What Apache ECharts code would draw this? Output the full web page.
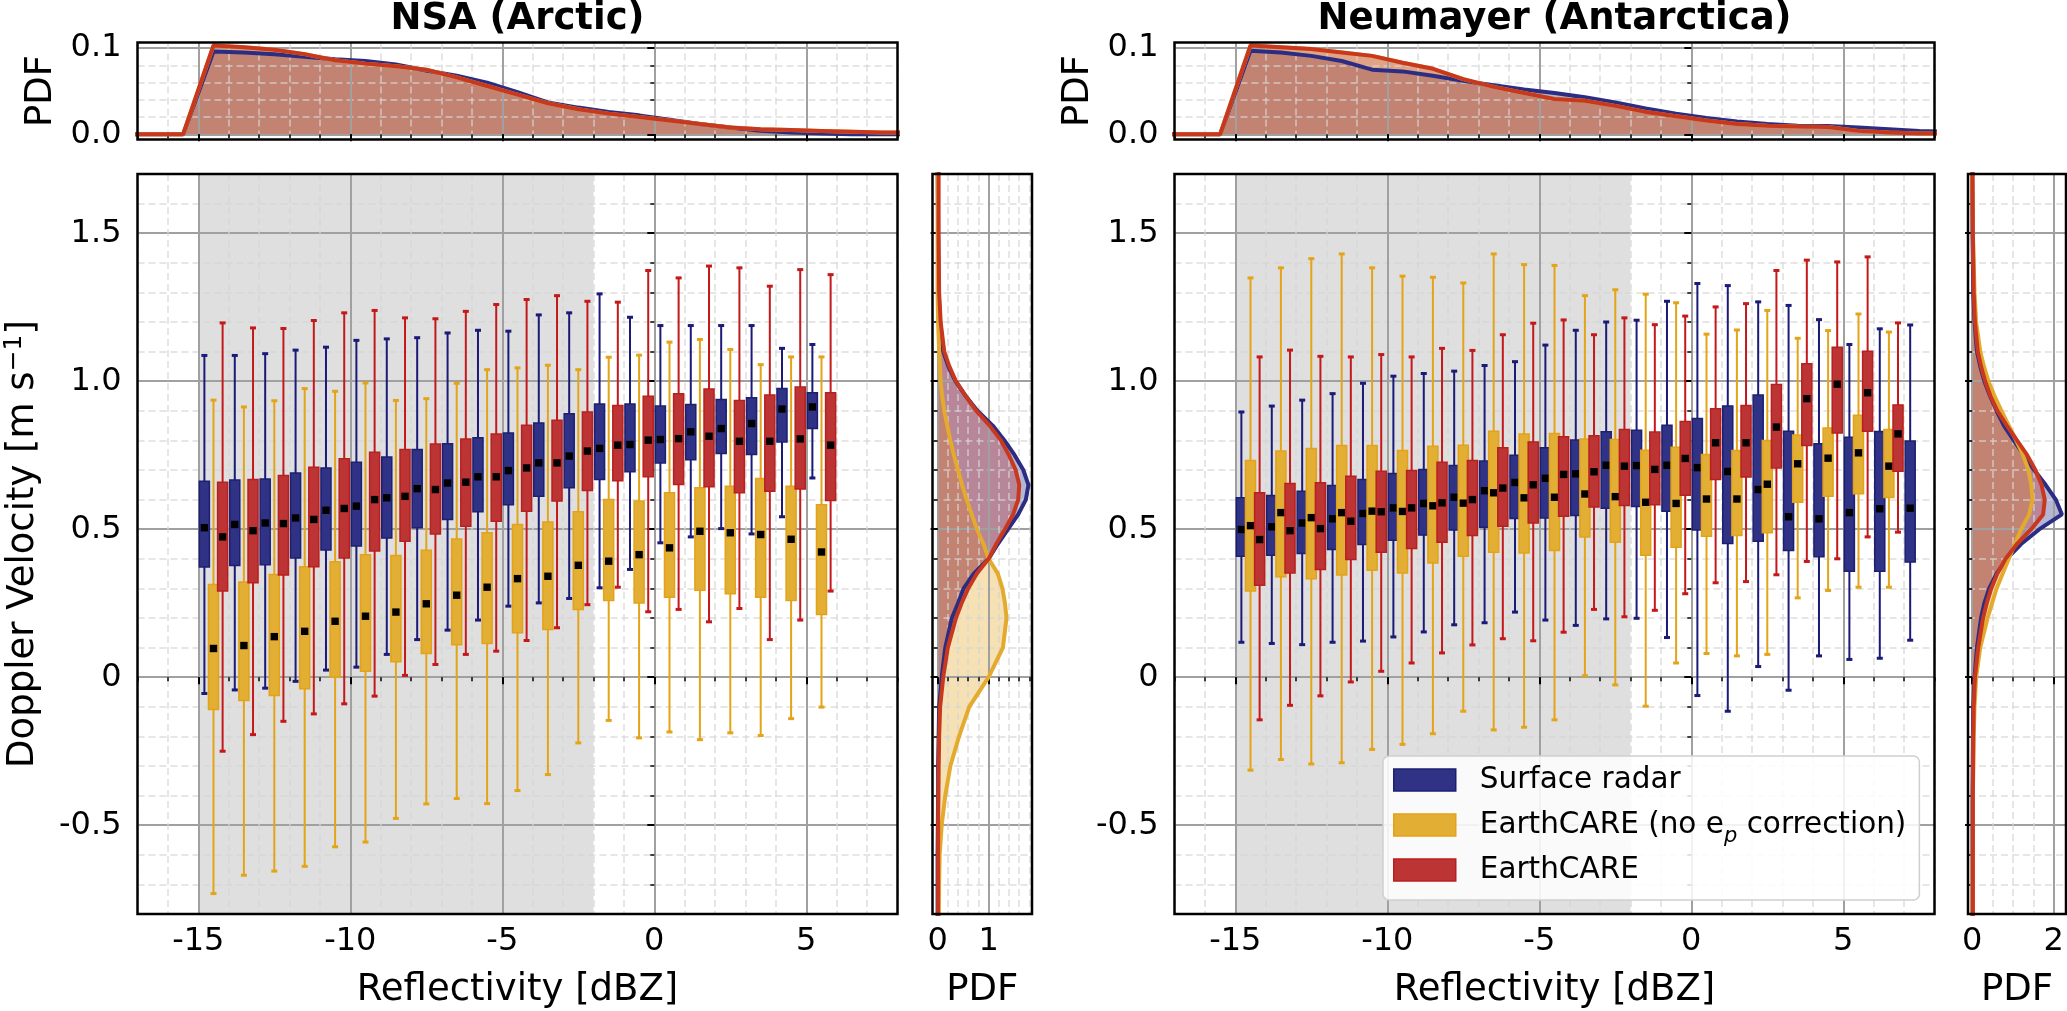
<!DOCTYPE html>
<html>
<head>
<meta charset="utf-8">
<script src="https://cdn.jsdelivr.net/npm/echarts@6/dist/echarts.min.js"></script>
<style>
html, body { margin: 0; padding: 0; background: #fff; }
#chart { width: 2067px; height: 1011px; }
</style>
</head>
<body>
<div id="chart"></div>
<script>
// ---- data ----
// reflectivity bins (dBZ)
var nsaBins = [-14.5, -13.5, -12.5, -11.5, -10.5, -9.5, -8.5, -7.5, -6.5, -5.5, -4.5, -3.5, -2.5, -1.5, -0.5, 0.5, 1.5, 2.5, 3.5, 4.5, 5.5];
var neuBins = [-14.5, -13.5, -12.5, -11.5, -10.5, -9.5, -8.5, -7.5, -6.5, -5.5, -4.5, -3.5, -2.5, -1.5, -0.5, 0.5, 1.5, 2.5, 3.5, 4.5, 5.5, 6.5, 7.5];

// box stats per bin: [whisker low, q1, median, q3, whisker high]  (m/s)
var nsaRadar = [
  [-0.055, 0.372, 0.505, 0.662, 1.087], [-0.043, 0.377, 0.516, 0.666, 1.087], [-0.037, 0.380, 0.521, 0.670, 1.093],
  [-0.014, 0.403, 0.538, 0.690, 1.105], [0.024, 0.430, 0.564, 0.707, 1.115], [0.034, 0.443, 0.578, 0.726, 1.138],
  [0.077, 0.470, 0.606, 0.744, 1.143], [0.127, 0.505, 0.637, 0.769, 1.147], [0.159, 0.533, 0.656, 0.789, 1.163],
  [0.193, 0.559, 0.677, 0.809, 1.172], [0.240, 0.583, 0.698, 0.825, 1.169], [0.251, 0.611, 0.724, 0.859, 1.224],
  [0.266, 0.640, 0.747, 0.890, 1.231], [0.302, 0.668, 0.773, 0.923, 1.295], [0.364, 0.694, 0.786, 0.923, 1.216],
  [0.454, 0.724, 0.803, 0.916, 1.188], [0.474, 0.735, 0.829, 0.921, 1.188], [0.502, 0.756, 0.840, 0.938, 1.188],
  [0.484, 0.752, 0.857, 0.944, 1.188], [0.542, 0.795, 0.906, 0.975, 1.111], [0.673, 0.840, 0.913, 0.961, 1.124]
];
var nsaRaw = [
  [-0.731, -0.109, 0.097, 0.313, 0.936], [-0.669, -0.079, 0.107, 0.322, 0.913], [-0.655, -0.062, 0.137, 0.347, 0.934],
  [-0.639, -0.039, 0.155, 0.373, 0.975], [-0.573, 0.000, 0.189, 0.390, 0.966], [-0.557, 0.020, 0.206, 0.414, 0.994],
  [-0.477, 0.052, 0.220, 0.411, 0.935], [-0.428, 0.080, 0.248, 0.429, 0.941], [-0.410, 0.110, 0.277, 0.467, 0.993],
  [-0.427, 0.114, 0.304, 0.488, 1.039], [-0.383, 0.150, 0.333, 0.516, 1.045], [-0.329, 0.161, 0.341, 0.524, 1.054],
  [-0.222, 0.229, 0.378, 0.559, 1.039], [-0.146, 0.259, 0.392, 0.600, 1.081], [-0.205, 0.251, 0.414, 0.595, 1.088],
  [-0.185, 0.270, 0.437, 0.623, 1.132], [-0.211, 0.294, 0.493, 0.640, 1.141], [-0.188, 0.282, 0.488, 0.645, 1.107],
  [-0.197, 0.270, 0.482, 0.671, 1.056], [-0.140, 0.259, 0.466, 0.645, 1.082], [-0.101, 0.212, 0.423, 0.583, 1.082]
];
var nsaCare = [
  [-0.250, 0.291, 0.474, 0.659, 1.197], [-0.194, 0.319, 0.495, 0.668, 1.180], [-0.149, 0.345, 0.519, 0.681, 1.178],
  [-0.124, 0.373, 0.533, 0.709, 1.205], [-0.090, 0.403, 0.570, 0.738, 1.231], [-0.064, 0.426, 0.600, 0.760, 1.239],
  [0.006, 0.459, 0.611, 0.769, 1.214], [0.043, 0.484, 0.634, 0.788, 1.211], [0.077, 0.510, 0.659, 0.805, 1.236],
  [0.088, 0.527, 0.677, 0.822, 1.259], [0.124, 0.561, 0.707, 0.851, 1.276], [0.167, 0.595, 0.724, 0.868, 1.289],
  [0.245, 0.631, 0.764, 0.896, 1.270], [0.304, 0.664, 0.784, 0.918, 1.267], [0.221, 0.677, 0.801, 0.949, 1.374],
  [0.229, 0.651, 0.806, 0.958, 1.349], [0.187, 0.643, 0.814, 0.974, 1.389], [0.232, 0.623, 0.797, 0.935, 1.383],
  [0.127, 0.628, 0.797, 0.953, 1.321], [0.193, 0.636, 0.805, 0.980, 1.377], [0.291, 0.597, 0.784, 0.961, 1.360]
];
var neuRadar = [
  [0.118, 0.409, 0.499, 0.606, 0.896], [0.114, 0.412, 0.508, 0.614, 0.916], [0.110, 0.418, 0.521, 0.628, 0.936],
  [0.118, 0.431, 0.535, 0.648, 0.958], [0.122, 0.448, 0.553, 0.668, 0.993], [0.136, 0.463, 0.572, 0.688, 1.017],
  [0.153, 0.480, 0.587, 0.702, 1.026], [0.177, 0.497, 0.608, 0.715, 1.034], [0.184, 0.507, 0.630, 0.730, 1.053],
  [0.220, 0.536, 0.658, 0.750, 1.066], [0.193, 0.538, 0.672, 0.775, 1.122], [0.175, 0.546, 0.687, 0.801, 1.172],
  [0.197, 0.571, 0.716, 0.829, 1.200], [0.199, 0.577, 0.715, 0.834, 1.206], [0.134, 0.561, 0.716, 0.851, 1.270],
  [-0.062, 0.497, 0.708, 0.874, 1.330], [-0.115, 0.452, 0.695, 0.916, 1.323], [0.036, 0.459, 0.634, 0.953, 1.268],
  [-0.044, 0.428, 0.542, 0.831, 1.256], [0.072, 0.407, 0.535, 0.789, 1.208], [0.060, 0.358, 0.556, 0.811, 1.124],
  [0.064, 0.358, 0.569, 0.830, 1.177], [0.125, 0.389, 0.571, 0.798, 1.190]
];
var neuRaw = [
  [-0.314, 0.291, 0.512, 0.732, 1.349], [-0.278, 0.339, 0.556, 0.764, 1.383], [-0.293, 0.333, 0.539, 0.773, 1.414],
  [-0.289, 0.345, 0.556, 0.783, 1.430], [-0.244, 0.361, 0.561, 0.783, 1.383], [-0.227, 0.352, 0.560, 0.766, 1.355],
  [-0.191, 0.386, 0.579, 0.780, 1.351], [-0.115, 0.409, 0.588, 0.784, 1.332], [-0.178, 0.422, 0.623, 0.831, 1.430],
  [-0.169, 0.420, 0.606, 0.822, 1.394], [-0.144, 0.428, 0.608, 0.823, 1.391], [0.005, 0.474, 0.619, 0.805, 1.289],
  [-0.026, 0.456, 0.610, 0.803, 1.309], [-0.098, 0.412, 0.591, 0.767, 1.294], [0.048, 0.439, 0.587, 0.777, 1.265],
  [0.080, 0.476, 0.602, 0.752, 1.159], [0.072, 0.479, 0.602, 0.766, 1.173], [0.077, 0.488, 0.652, 0.800, 1.239],
  [0.268, 0.591, 0.721, 0.818, 1.145], [0.293, 0.611, 0.740, 0.842, 1.171], [0.304, 0.620, 0.758, 0.885, 1.227],
  [0.304, 0.607, 0.713, 0.837, 1.166]
];
var neuCare = [
  [-0.144, 0.311, 0.465, 0.623, 1.082], [-0.095, 0.352, 0.495, 0.654, 1.105], [-0.063, 0.364, 0.502, 0.657, 1.084],
  [-0.016, 0.398, 0.527, 0.679, 1.082], [0.020, 0.422, 0.559, 0.696, 1.090], [0.048, 0.435, 0.572, 0.698, 1.082],
  [0.082, 0.456, 0.589, 0.726, 1.111], [0.109, 0.479, 0.600, 0.732, 1.104], [0.130, 0.510, 0.639, 0.775, 1.157],
  [0.123, 0.521, 0.650, 0.795, 1.196], [0.152, 0.544, 0.685, 0.812, 1.207], [0.229, 0.575, 0.694, 0.816, 1.157],
  [0.204, 0.580, 0.713, 0.837, 1.214], [0.226, 0.583, 0.702, 0.828, 1.191], [0.282, 0.615, 0.739, 0.864, 1.220],
  [0.319, 0.668, 0.792, 0.907, 1.251], [0.323, 0.676, 0.792, 0.918, 1.262], [0.346, 0.707, 0.845, 0.989, 1.374],
  [0.391, 0.783, 0.941, 1.059, 1.409], [0.400, 0.825, 0.990, 1.115, 1.403], [0.474, 0.831, 0.961, 1.101, 1.420],
  [0.490, 0.696, 0.822, 0.920, 1.197]
];

// reflectivity PDFs (top panels)
var pdfZ = [-17.5, -16.5, -15.5, -14.5, -13.5, -12.5, -11.5, -10.5, -9.5, -8.5, -7.5, -6.5, -5.5, -4.5, -3.5, -2.5, -1.5, -0.5, 0.5, 1.5, 2.5, 3.5, 4.5, 5.5, 6.5, 7.5, 8.5];
var nsaRadarZpdf = [0, 0, 0, 0.096, 0.095, 0.093, 0.090, 0.087, 0.085, 0.081, 0.074, 0.068, 0.060, 0.049, 0.037, 0.031, 0.026, 0.022, 0.017, 0.012, 0.008, 0.004, 0.002, 0.001, 0, 0, 0];
var nsaCareZpdf = [0, 0, 0, 0.103, 0.101, 0.098, 0.093, 0.086, 0.082, 0.079, 0.075, 0.066, 0.056, 0.046, 0.036, 0.029, 0.024, 0.020, 0.016, 0.012, 0.008, 0.006, 0.005, 0.004, 0.003, 0.002, 0.002];
var neuRadarZpdf = [0, 0, 0, 0.097, 0.095, 0.091, 0.085, 0.075, 0.073, 0.068, 0.062, 0.057, 0.052, 0.048, 0.043, 0.037, 0.030, 0.024, 0.019, 0.015, 0.012, 0.010, 0.0097, 0.008, 0.006, 0.004, 0.003];
var neuCareZpdf = [0, 0, 0, 0.103, 0.101, 0.099, 0.095, 0.091, 0.083, 0.076, 0.064, 0.055, 0.048, 0.041, 0.039, 0.033, 0.026, 0.021, 0.016, 0.012, 0.010, 0.009, 0.0085, 0.004, 0.002, 0.001, 0.001];

// velocity PDFs (side panels)
var pdfV = [-0.85, -0.7, -0.6, -0.5, -0.4, -0.3, -0.2, -0.1, 0, 0.1, 0.2, 0.25, 0.3, 0.35, 0.4, 0.45, 0.5, 0.55, 0.6, 0.65, 0.7, 0.75, 0.8, 0.85, 0.9, 0.95, 1.0, 1.05, 1.1, 1.2, 1.3, 1.5, 1.75];
var nsaRadarVpdf = [0, 0, 0, 0.005, 0.01, 0.01, 0.02, 0.03, 0.08, 0.15, 0.28, 0.4, 0.51, 0.71, 1.0, 1.18, 1.38, 1.58, 1.73, 1.78, 1.68, 1.51, 1.31, 1.08, 0.78, 0.55, 0.35, 0.21, 0.11, 0.05, 0.02, 0.01, 0];
var nsaRawVpdf = [0.02, 0.03, 0.04, 0.08, 0.15, 0.25, 0.42, 0.62, 1.0, 1.28, 1.35, 1.32, 1.27, 1.18, 1.0, 0.9, 0.77, 0.67, 0.57, 0.48, 0.4, 0.32, 0.25, 0.19, 0.13, 0.09, 0.06, 0.045, 0.03, 0.01, 0, 0, 0];
var nsaCareVpdf = [0.01, 0.01, 0.01, 0.01, 0.015, 0.02, 0.03, 0.05, 0.11, 0.2, 0.36, 0.47, 0.6, 0.77, 1.0, 1.15, 1.32, 1.48, 1.58, 1.6, 1.53, 1.4, 1.24, 1.02, 0.76, 0.55, 0.36, 0.23, 0.13, 0.06, 0.03, 0.02, 0.02];
var neuRadarVpdf = [0.01, 0.01, 0.01, 0.01, 0.01, 0.015, 0.02, 0.03, 0.06, 0.12, 0.22, 0.3, 0.42, 0.6, 0.85, 1.2, 1.65, 2.2, 2.05, 1.8, 1.52, 1.27, 1.02, 0.78, 0.6, 0.44, 0.3, 0.2, 0.12, 0.06, 0.03, 0.01, 0];
var neuRawVpdf = [0.01, 0.01, 0.015, 0.02, 0.02, 0.03, 0.04, 0.06, 0.1, 0.2, 0.38, 0.49, 0.6, 0.75, 0.9, 1.05, 1.2, 1.4, 1.48, 1.45, 1.38, 1.25, 1.08, 0.9, 0.72, 0.55, 0.4, 0.29, 0.2, 0.1, 0.06, 0.02, 0];
var neuCareVpdf = [0.02, 0.02, 0.02, 0.02, 0.02, 0.025, 0.03, 0.04, 0.07, 0.15, 0.27, 0.36, 0.47, 0.62, 0.82, 1.1, 1.45, 1.74, 1.78, 1.7, 1.55, 1.35, 1.1, 0.85, 0.62, 0.45, 0.32, 0.22, 0.14, 0.07, 0.04, 0.02, 0.01];

// shaded reflectivity range, labelled ticks
var shadeRange = [-15, -2];
var zTicks = [-15, -10, -5, 0, 5];
var vTicks = [-0.5, 0, 0.5, 1.0, 1.5];
var zPdfTicks = [0, 0.1];
var nsaVpdfTicks = [0, 1];
var neuVpdfTicks = [0, 2];

// ---- styling ----
var FONT = 'DejaVu Sans';
var COL = {
  radar: { fill: '#2f3285', edge: '#1d2070', whisk: '#1a1a78', line: '#2b2d83', area: 'rgba(40,45,130,0.35)' },
  raw:   { fill: '#e2ae33', edge: '#e3a21a', whisk: '#e4a418', line: '#e3aa2e', area: 'rgba(230,170,40,0.35)' },
  care:  { fill: '#bd3434', edge: '#b8201f', whisk: '#c4181a', line: '#c8381f', area: 'rgba(190,45,45,0.35)' }
};
var NAMES = { radar: 'Surface radar', raw: 'EarthCARE (no ep correction)', care: 'EarthCARE' };
var BOX_W = 0.33;

function stepTicks(min, max, step, inclusive) {
  var out = [];
  for (var k = Math.ceil(min / step - 1e-9); k * step <= max + 1e-9; k++) {
    var v = +(k * step).toFixed(6);
    if (inclusive || (v > min + 1e-9 && v < max - 1e-9)) out.push(v);
  }
  return out;
}

function axisPair(dim, grid, min, max, minorStep, majorStep, major, opt) {
  opt = opt || {};
  var pos = dim === 'x' ? 'bottom' : 'left';
  var minorAxis = {
    type: 'value', gridIndex: grid, position: pos, min: min, max: max, z: 1,
    minInterval: minorStep, maxInterval: minorStep,
    axisLine: { show: false }, axisLabel: { show: false },
    axisTick: { show: true, length: 4, customValues: stepTicks(min, max, minorStep, opt.edgeTicks),
      lineStyle: { color: '#000', width: 1.5 } },
    splitLine: { show: true, lineStyle: { color: 'rgba(214,214,214,0.8)', width: 1.5, type: [7, 4] } }
  };
  var majorAxis = {
    type: 'value', gridIndex: grid, position: pos, min: min, max: max, z: 1,
    minInterval: majorStep, maxInterval: majorStep,
    axisLine: { show: false },
    axisTick: { show: true, length: 7, customValues: major, lineStyle: { color: '#000', width: 2 } },
    axisLabel: { show: !!opt.fmt, customValues: major, formatter: opt.fmt, margin: opt.margin || 14,
      color: '#000', fontSize: 32, fontFamily: FONT },
    splitLine: { show: true, lineStyle: { color: '#a0a0a0', width: 2 } },
    name: opt.name || '', nameLocation: 'middle', nameGap: opt.nameGap || 0,
    nameTextStyle: { color: '#000', fontSize: 37, fontFamily: FONT, lineHeight: 44,
      rich: { sup: { fontSize: 25, fontFamily: FONT, color: '#000', verticalAlign: 'top', lineHeight: 26 } } }
  };
  return [minorAxis, majorAxis];
}

var fmtV = function (v) { return v === 0 ? '0' : v.toFixed(1); };
var fmtP = function (v) { return v.toFixed(1); };
var fmtI = function (v) { return String(v); };

var xAxes = [].concat(
  axisPair('x', 0, -17, 8, 1, 5, zTicks, { edgeTicks: true }),
  axisPair('x', 1, -17, 8, 1, 5, zTicks, { edgeTicks: true, fmt: fmtI, margin: 12, name: 'Reflectivity [dBZ]', nameGap: 54 }),
  axisPair('x', 2, -0.1, 1.85, 0.2, 1, nsaVpdfTicks, { fmt: fmtI, margin: 12, name: 'PDF', nameGap: 54 }),
  axisPair('x', 3, -17, 8, 1, 5, zTicks, { edgeTicks: true }),
  axisPair('x', 4, -17, 8, 1, 5, zTicks, { edgeTicks: true, fmt: fmtI, margin: 12, name: 'Reflectivity [dBZ]', nameGap: 54 }),
  axisPair('x', 5, -0.1, 2.3, 0.5, 2, neuVpdfTicks, { fmt: fmtI, margin: 12, name: 'PDF', nameGap: 54 })
);
var yAxes = [].concat(
  axisPair('y', 0, -0.006, 0.1065, 0.02, 0.1, zPdfTicks, { fmt: fmtP, margin: 16, name: 'PDF', nameGap: 74 }),
  axisPair('y', 1, -0.8, 1.7, 0.1, 0.5, vTicks, { fmt: fmtV, margin: 16, name: 'Doppler Velocity [m s{sup|\u22121}]', nameGap: 92 }),
  axisPair('y', 2, -0.8, 1.7, 0.1, 0.5, vTicks, {}),
  axisPair('y', 3, -0.006, 0.1065, 0.02, 0.1, zPdfTicks, { fmt: fmtP, margin: 16, name: 'PDF', nameGap: 74 }),
  axisPair('y', 4, -0.8, 1.7, 0.1, 0.5, vTicks, { fmt: fmtV, margin: 16 }),
  axisPair('y', 5, -0.8, 1.7, 0.1, 0.5, vTicks, {})
);

function gridBox(left, top, width, height) {
  return { left: left, top: top, width: width, height: height, show: true, z: 10,
    backgroundColor: 'transparent', borderColor: '#000', borderWidth: 2.5,
    containLabel: false, outerBoundsMode: 'none' };
}
var grids = [
  gridBox(137.5, 42.5, 760, 97), gridBox(137.5, 174, 760, 740), gridBox(932.5, 174, 99.5, 740),
  gridBox(1174.5, 42.5, 760, 97), gridBox(1174.5, 174, 760, 740), gridBox(1968, 174, 98, 740)
];

// ---- series builders ----
function shadeSeries(g) {
  return {
    type: 'custom', xAxisIndex: 2 * g + 1, yAxisIndex: 2 * g + 1, z: 0, silent: true,
    data: [shadeRange],
    renderItem: function (params, api) {
      var a = api.coord([api.value(0), 0]);
      var b = api.coord([api.value(1), 0]);
      var cs = params.coordSys;
      return { type: 'rect', shape: { x: a[0], y: cs.y, width: b[0] - a[0], height: cs.height },
        style: { fill: 'rgb(223,223,223)' } };
    }
  };
}

function boxSeries(g, key, bins, stats, offset) {
  var c = COL[key];
  return {
    type: 'custom', name: NAMES[key], xAxisIndex: 2 * g + 1, yAxisIndex: 2 * g + 1, z: 2,
    itemStyle: { color: c.fill, borderColor: c.edge },
    encode: { x: 0, y: [1, 5] },
    data: stats.map(function (s, i) { return [bins[i]].concat(s); }),
    renderItem: function (params, api) {
      var x = api.value(0) + offset;
      var lo = api.coord([x, api.value(1)]);
      var q1 = api.coord([x, api.value(2)]);
      var md = api.coord([x, api.value(3)]);
      var q3 = api.coord([x, api.value(4)]);
      var hi = api.coord([x, api.value(5)]);
      var w = api.size([BOX_W, 0])[0];
      var cx = md[0];
      return { type: 'group', children: [
        { type: 'line', shape: { x1: cx, y1: lo[1], x2: cx, y2: hi[1] }, style: { stroke: c.whisk, lineWidth: 2 } },
        { type: 'line', shape: { x1: cx - 3, y1: lo[1], x2: cx + 3, y2: lo[1] }, style: { stroke: c.whisk, lineWidth: 3 } },
        { type: 'line', shape: { x1: cx - 3, y1: hi[1], x2: cx + 3, y2: hi[1] }, style: { stroke: c.whisk, lineWidth: 3 } },
        { type: 'rect', shape: { x: cx - w / 2, y: q3[1], width: w, height: q1[1] - q3[1] },
          style: { fill: c.fill, stroke: c.edge, lineWidth: 1.5 } },
        { type: 'rect', shape: { x: cx - 3.7, y: md[1] - 3.7, width: 7.4, height: 7.4 }, style: { fill: '#000' } }
      ] };
    }
  };
}

function zPdfSeries(g, key, vals) {
  var c = COL[key];
  var pts = pdfZ.map(function (z, i) { return [z, vals[i]]; });
  return [
    { type: 'line', xAxisIndex: 2 * g + 1, yAxisIndex: 2 * g + 1, z: 0, silent: true, data: pts,
      symbol: 'none', lineStyle: { width: 0 }, areaStyle: { color: c.area, opacity: 1 } },
    { type: 'line', xAxisIndex: 2 * g + 1, yAxisIndex: 2 * g + 1, z: 3, silent: true, data: pts,
      symbol: 'none', lineStyle: { width: 4, color: c.line } }
  ];
}

function vPdfSeries(g, key, vals) {
  var c = COL[key];
  var pts = pdfV.map(function (v, i) { return [vals[i], v]; });
  return [
    { type: 'custom', xAxisIndex: 2 * g + 1, yAxisIndex: 2 * g + 1, z: 0, silent: true, clip: true,
      data: [[0, pdfV[0]]],
      renderItem: function (params, api) {
        var poly = [api.coord([0, pdfV[0]])];
        pts.forEach(function (p) { poly.push(api.coord(p)); });
        poly.push(api.coord([0, pdfV[pdfV.length - 1]]));
        return { type: 'polygon', shape: { points: poly }, style: { fill: c.area } };
      } },
    { type: 'line', xAxisIndex: 2 * g + 1, yAxisIndex: 2 * g + 1, z: 3, silent: true, data: pts,
      symbol: 'none', lineStyle: { width: 4, color: c.line } }
  ];
}

var series = [].concat(
  shadeSeries(1),
  boxSeries(1, 'radar', nsaBins, nsaRadar, -0.3),
  boxSeries(1, 'raw', nsaBins, nsaRaw, 0),
  boxSeries(1, 'care', nsaBins, nsaCare, 0.3),
  zPdfSeries(0, 'radar', nsaRadarZpdf),
  zPdfSeries(0, 'raw', nsaCareZpdf),   // reflectivity is the same with or without e_p correction
  zPdfSeries(0, 'care', nsaCareZpdf),
  vPdfSeries(2, 'radar', nsaRadarVpdf),
  vPdfSeries(2, 'raw', nsaRawVpdf),
  vPdfSeries(2, 'care', nsaCareVpdf),
  shadeSeries(4),
  boxSeries(4, 'radar', neuBins, neuRadar, -0.3),
  boxSeries(4, 'raw', neuBins, neuRaw, 0),
  boxSeries(4, 'care', neuBins, neuCare, 0.3),
  zPdfSeries(3, 'radar', neuRadarZpdf),
  zPdfSeries(3, 'raw', neuCareZpdf),
  zPdfSeries(3, 'care', neuCareZpdf),
  vPdfSeries(5, 'radar', neuRadarVpdf),
  vPdfSeries(5, 'raw', neuRawVpdf),
  vPdfSeries(5, 'care', neuCareVpdf)
);

var chart = echarts.init(document.getElementById('chart'));
chart.setOption({
  animation: false,
  backgroundColor: '#fff',
  grid: grids,
  xAxis: xAxes,
  yAxis: yAxes,
  series: series,
  legend: {
    orient: 'vertical', left: 1383, top: 756, z: 6,
    padding: [7, 13, 13, 10], itemGap: 6, itemWidth: 62, itemHeight: 22,
    backgroundColor: 'rgba(255,255,255,0.85)', borderColor: '#cfcfcf', borderWidth: 1.5, borderRadius: 6,
    selectedMode: false, icon: 'rect',
    data: ['radar', 'raw', 'care'].map(function (k) {
      return { name: NAMES[k], itemStyle: { color: COL[k].fill, borderColor: COL[k].edge, borderWidth: 1.5 } };
    }),
    formatter: function (name) {
      return name === NAMES.raw ? 'EarthCARE (no e{sub|p} correction)' : name;
    },
    textStyle: { color: '#000', fontSize: 29.5, fontFamily: FONT, lineHeight: 34, padding: [0, 0, 0, 19],
      rich: { sub: { fontSize: 21, fontStyle: 'italic', fontFamily: FONT, color: '#000', verticalAlign: 'bottom', lineHeight: 44 } } }
  },
  graphic: [
    { type: 'text', x: 517.5, y: 19, style: { text: 'NSA (Arctic)', fontSize: 37, fontWeight: 'bold', fontFamily: FONT,
      fill: '#000', align: 'center', verticalAlign: 'middle' } },
    { type: 'text', x: 1554.5, y: 19, style: { text: 'Neumayer (Antarctica)', fontSize: 37, fontWeight: 'bold', fontFamily: FONT,
      fill: '#000', align: 'center', verticalAlign: 'middle' } }
  ]
});
</script>
</body>
</html>
